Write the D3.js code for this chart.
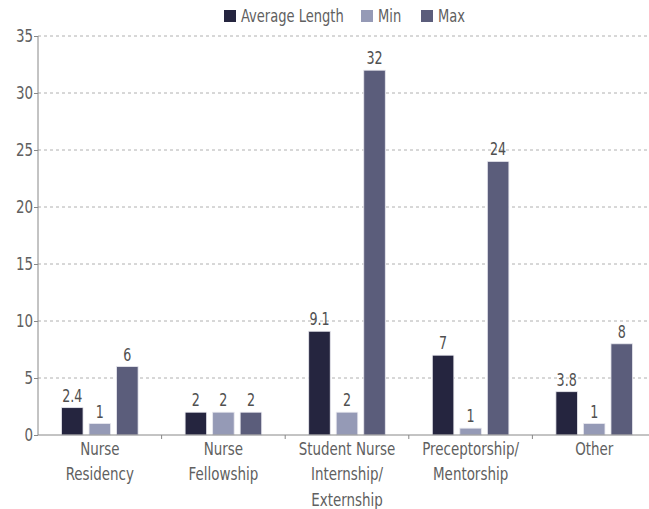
<!DOCTYPE html>
<html>
<head>
<meta charset="utf-8">
<script src="https://cdn.jsdelivr.net/npm/d3@7"></script>
<style>
  body { margin: 0; background: #fff; }
  svg text { font-family: "DejaVu Sans Condensed", "DejaVu Sans", sans-serif; }
</style>
</head>
<body>
<div id="chart"></div>
<script>
// chart data
const categories = [["Nurse", "Residency"], ["Nurse", "Fellowship"], ["Student Nurse", "Internship/", "Externship"], ["Preceptorship/", "Mentorship"], ["Other"]];
const series = ["Average Length", "Min", "Max"];
const avgLength = [2.4, 2, 9.1, 7, 3.8];
const minVals = [1, 2, 2, 0.6, 1];
const maxVals = [6, 2, 32, 24, 8];
const avgLabels = ["2.4", "2", "9.1", "7", "3.8"];
const minLabels = ["1", "2", "2", "1", "1"];
const maxLabels = ["6", "2", "32", "24", "8"];
const yTicks = [0, 5, 10, 15, 20, 25, 30, 35];
const colors = ["#25253f", "#959ab6", "#5b5d7b"];

const W = 649, H = 509;
const margin = { top: 36, right: -7, bottom: 74, left: 38 };
const width = W - margin.left - margin.right;
const height = H - margin.top - margin.bottom;
const squeeze = 0.83; // narrow the text like a condensed face

const svg = d3.select("#chart").append("svg")
  .attr("width", W).attr("height", H)
  .append("g")
  .attr("transform", `translate(${margin.left},${margin.top})`);

const idx = d3.range(categories.length);
const x0 = d3.scaleBand().domain(idx).range([0, width]).padding(0);
const x1 = d3.scaleBand().domain(series).range([0, x0.bandwidth()])
  .paddingInner(0.218).paddingOuter(0.854);
const y = d3.scaleLinear().domain([0, 35]).range([height, 0]);

// dashed gridlines
svg.selectAll(".grid")
  .data(yTicks.slice(1))
  .join("line")
  .attr("x1", 0).attr("x2", width)
  .attr("y1", d => y(d)).attr("y2", d => y(d))
  .attr("stroke", "#b0b0b0")
  .attr("stroke-dasharray", "3,3");

// y axis
const yAxis = d3.axisLeft(y).tickValues(yTicks).tickSize(4).tickPadding(0);
svg.append("g")
  .call(yAxis)
  .call(g => g.select(".domain").attr("stroke", "#888").attr("d", `M0,${height}V0`))
  .call(g => g.selectAll(".tick line").attr("stroke", "#888"))
  .call(g => g.selectAll(".tick text")
    .attr("x", null)
    .attr("transform", `translate(-5,0) scale(${squeeze},1)`)
    .attr("fill", "#606060").attr("font-size", "18px"));

// bars
const rows = idx.map(i => ({
  i,
  vals: [
    { s: series[0], v: avgLength[i], t: avgLabels[i] },
    { s: series[1], v: minVals[i], t: minLabels[i] },
    { s: series[2], v: maxVals[i], t: maxLabels[i] }
  ]
}));

const groups = svg.selectAll(".grp")
  .data(rows)
  .join("g")
  .attr("transform", d => `translate(${x0(d.i)},0)`);

groups.selectAll("rect")
  .data(d => d.vals)
  .join("rect")
  .attr("x", d => x1(d.s))
  .attr("width", x1.bandwidth())
  .attr("y", d => y(d.v))
  .attr("height", d => height - y(d.v))
  .attr("fill", d => colors[series.indexOf(d.s)])
  .attr("stroke", "#e8e8ee")
  .attr("stroke-width", 0.8);

groups.selectAll(".val")
  .data(d => d.vals)
  .join("text")
  .attr("transform", d => `translate(${x1(d.s) + x1.bandwidth() / 2},${y(d.v) - 6}) scale(${squeeze},1)`)
  .attr("text-anchor", "middle")
  .attr("font-size", "17px")
  .attr("fill", "#505050")
  .text(d => d.t);

// x axis
svg.append("line")
  .attr("x1", 0).attr("x2", width)
  .attr("y1", height).attr("y2", height)
  .attr("stroke", "#888");

svg.selectAll(".xtick")
  .data(idx.slice(1))
  .join("line")
  .attr("x1", d => x0(d)).attr("x2", d => x0(d))
  .attr("y1", height).attr("y2", height + 4)
  .attr("stroke", "#888");

svg.selectAll(".cat")
  .data(idx)
  .join("text")
  .attr("transform", d => `translate(${x0(d) + x0.bandwidth() / 2},${height + 20}) scale(${squeeze},1)`)
  .attr("text-anchor", "middle")
  .attr("font-size", "18px")
  .attr("fill", "#606060")
  .selectAll("tspan")
  .data(d => categories[d])
  .join("tspan")
  .attr("x", 0)
  .attr("dy", (d, j) => j === 0 ? 0 : 25.5)
  .text(d => d);

// legend
const legendX = [224, 361, 421];
const legend = d3.select("svg").append("g");
series.forEach((s, i) => {
  legend.append("rect")
    .attr("x", legendX[i]).attr("y", 10)
    .attr("width", 12).attr("height", 12)
    .attr("fill", colors[i]);
  legend.append("text")
    .attr("transform", `translate(${legendX[i] + 17},22) scale(${squeeze},1)`)
    .attr("font-size", "17.5px")
    .attr("fill", "#606060")
    .text(s);
});
</script>
</body>
</html>
